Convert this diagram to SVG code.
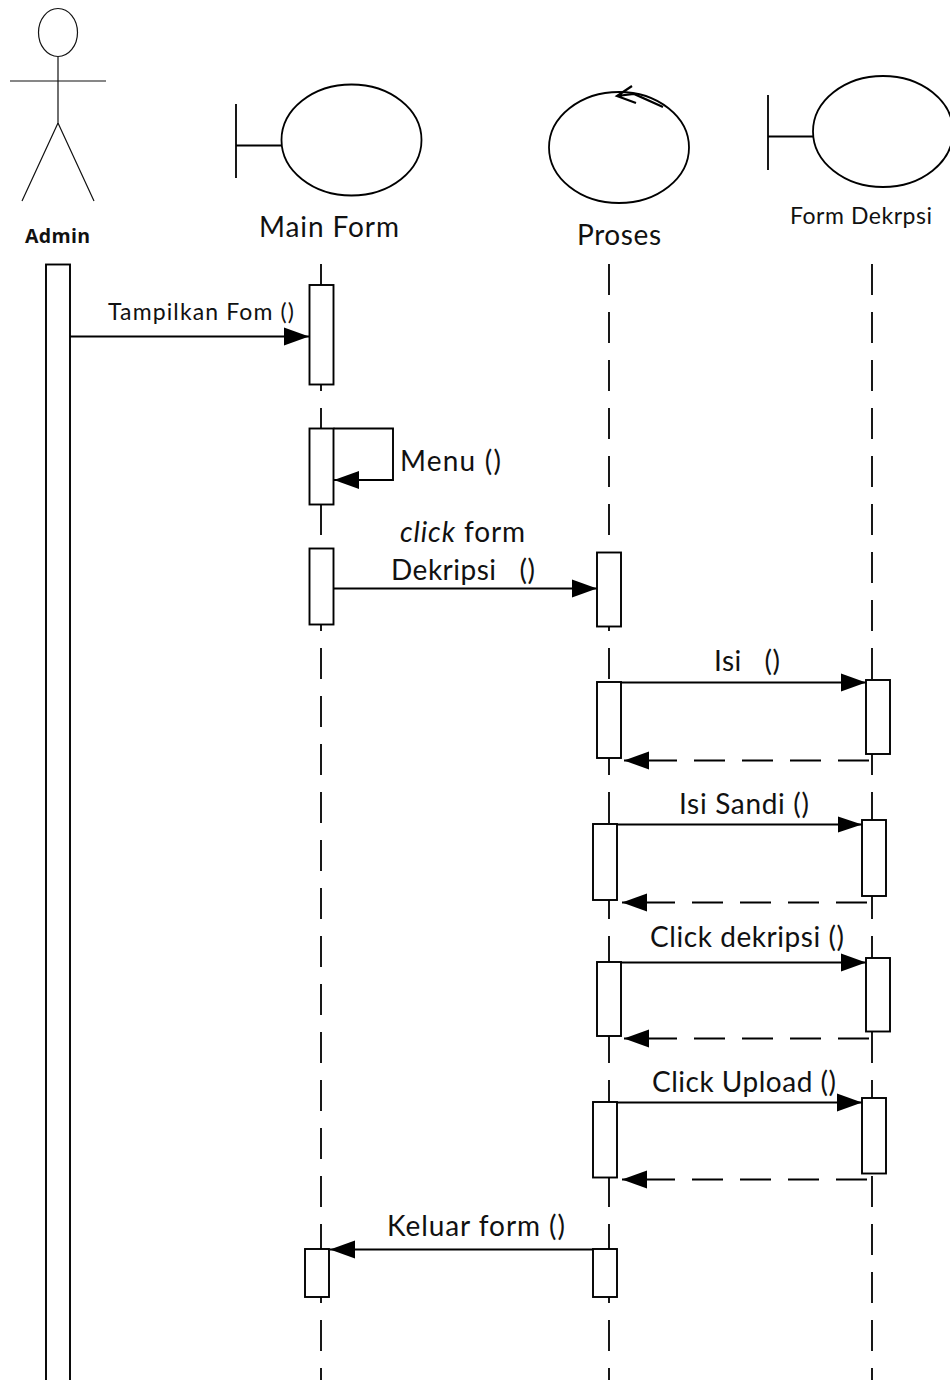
<svg xmlns="http://www.w3.org/2000/svg" width="950" height="1380" viewBox="0 0 950 1380">
<style>
text{font-family:"Lato","Open Sans","Liberation Sans",sans-serif;fill:#111;white-space:pre}
.l{font-size:28px}.s{font-size:23px}.f{font-size:23px}
.adm{font-family:"Open Sans","Liberation Sans",sans-serif;font-weight:700;font-size:19.500px}
.box{fill:#fff;stroke:#000;stroke-width:1.9}
.shape{fill:none;stroke:#000;stroke-width:1.8}
.thin{fill:none;stroke:#111;stroke-width:1.2}
.life{stroke:#000;stroke-width:1.8;stroke-dasharray:31 17;fill:none}
.msg{stroke:#000;stroke-width:1.9;fill:none;marker-end:url(#a)}
.msg2{stroke:#000;stroke-width:1.9;fill:none;marker-end:url(#b)}
.ret{stroke-dasharray:31 17}
.rot{fill:none;stroke:#000;stroke-width:2.2}
</style>
<defs>
<marker id="a" markerUnits="userSpaceOnUse" markerWidth="27" markerHeight="20" refX="26" refY="10" orient="auto"><path d="M1 1 L26 10 L1 19 Z" fill="#000"/></marker>
<marker id="b" markerUnits="userSpaceOnUse" markerWidth="26" markerHeight="18" refX="25" refY="9" orient="auto"><path d="M1 1 L25 9 L1 17 Z" fill="#000"/></marker>
</defs>
<rect width="950" height="1380" fill="#fff"/>

<g id="lifelines">
<path class="life" d="M321 264V1380"/>
<path class="life" d="M609 264V1380"/>
<path class="life" d="M872 264V1380"/>
</g>

<g id="actor-admin">
<ellipse class="thin" cx="58" cy="32.500" rx="19.500" ry="24"/>
<path class="thin" d="M58 57V123M10 81H106M58 123L22 201M58 123L94 201"/>
<text class="adm" x="25" y="243" textLength="65">Admin</text>
<rect class="box" x="46" y="264.500" width="24" height="1125"/>
</g>

<g id="main-form">
<path class="shape" d="M236 104V178M236 145.500H282"/>
<ellipse class="shape" cx="351.500" cy="140" rx="70" ry="55.500"/>
<text class="l" x="259" y="237" textLength="140">Main Form</text>
</g>

<g id="proses">
<ellipse class="shape" cx="619" cy="147.500" rx="70" ry="55.500"/>
<path class="rot" d="M632 86L617 96L636 103M617 96L634 94L663 107"/>
<text class="l" x="577" y="245" textLength="84">Proses</text>
</g>

<g id="form-dekripsi">
<path class="shape" d="M768 95V170M768 136.500H813"/>
<ellipse class="shape" cx="883" cy="131.500" rx="70" ry="55.500"/>
<text class="f" x="790" y="224" textLength="142">Form Dekrpsi</text>
</g>

<g id="activations">
<rect class="box" x="309.500" y="285" width="24" height="99.500"/>
<rect class="box" x="309.500" y="428.500" width="24" height="76"/>
<rect class="box" x="309.500" y="548.500" width="24" height="76"/>
<rect class="box" x="597" y="552.500" width="24" height="74"/>
<rect class="box" x="597" y="682" width="24" height="76"/>
<rect class="box" x="866" y="680" width="24" height="74"/>
<rect class="box" x="593" y="824" width="24" height="76"/>
<rect class="box" x="862" y="820" width="24" height="76"/>
<rect class="box" x="597" y="962" width="24" height="74"/>
<rect class="box" x="866" y="958" width="24" height="73.500"/>
<rect class="box" x="593" y="1102" width="24" height="75.500"/>
<rect class="box" x="862" y="1098" width="24" height="75.500"/>
<rect class="box" x="305" y="1249" width="24" height="48"/>
<rect class="box" x="593" y="1249" width="24" height="48"/>
</g>

<g id="connectors">
<path class="msg" d="M70 336.500H309"/>
<path class="msg" d="M333.500 428.500H393V480H334"/>
<path class="msg" d="M333.500 588.500H597"/>
<path class="msg" d="M621 682.500H866"/>
<path class="msg ret" d="M869 760.500H624"/>
<path class="msg2" d="M617 824.500H862"/>
<path class="msg ret" d="M867 902.500H622"/>
<path class="msg" d="M621 962.500H866"/>
<path class="msg ret" d="M869 1038.500H624"/>
<path class="msg" d="M617 1102.500H862"/>
<path class="msg ret" d="M867 1179.500H622"/>
<path class="msg" d="M593 1249.500H330"/>
</g>

<g id="labels">
<text class="s" x="108" y="320" textLength="186">Tampilkan Fom ()</text>
<text class="l" x="400" y="471" textLength="101">Menu ()</text>
<text class="l" x="400" y="542" textLength="125"><tspan font-style="italic">click</tspan> form</text>
<text class="l" x="391" y="580" textLength="144">Dekripsi   ()</text>
<text class="l" x="714" y="671" textLength="66">Isi   ()</text>
<text class="l" x="679" y="814" textLength="130">Isi Sandi ()</text>
<text class="l" x="650" y="947" textLength="194">Click dekripsi ()</text>
<text class="l" x="652" y="1092" textLength="184">Click Upload ()</text>
<text class="l" x="387" y="1236" textLength="178">Keluar form ()</text>
</g>
</svg>
